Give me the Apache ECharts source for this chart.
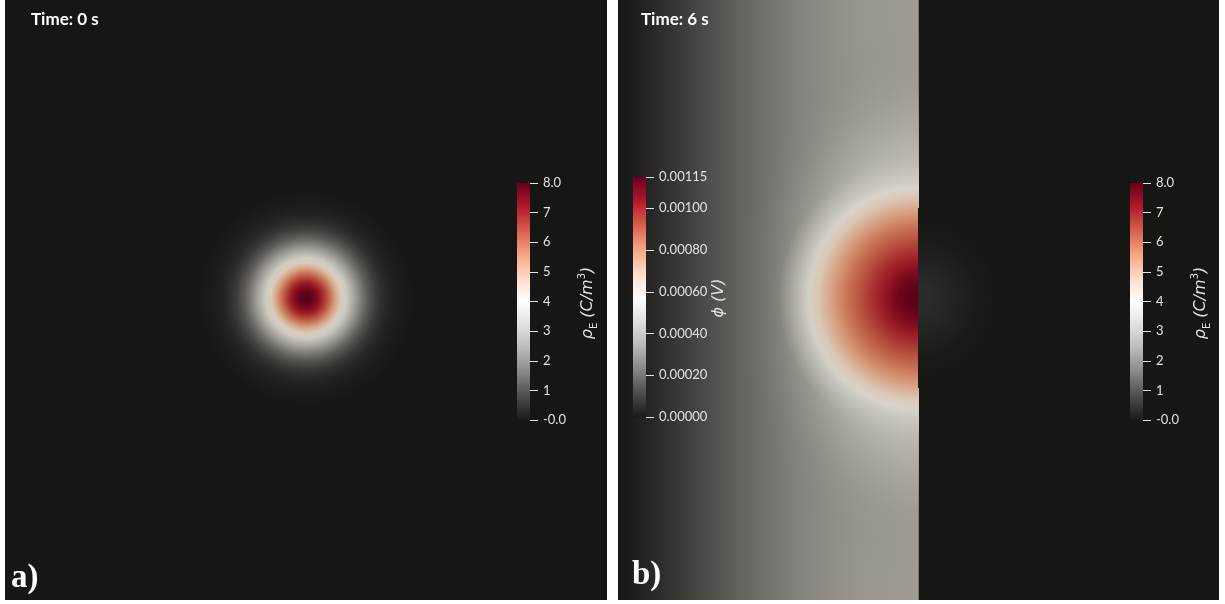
<!DOCTYPE html>
<html>
<head>
<meta charset="utf-8">
<script src="https://cdn.jsdelivr.net/npm/echarts@6.0.0/dist/echarts.min.js"></script>
<style>
  html, body { margin: 0; padding: 0; background: #ffffff; }
  #chart { width: 1225px; height: 604px; }
</style>
</head>
<body>
<div id="chart"></div>
<script>
// ---------------- data ----------------
const timeLabels = ['Time: 0 s', 'Time: 6 s'];
const panelLabels = ['a)', 'b)'];

// diverging map: dark grey -> white -> dark red, evenly spaced stops
const cmap = ['#1a1a1a', '#4d4d4d', '#878787', '#bababa', '#e0e0e0', '#ffffff',
              '#fddbc7', '#f4a582', '#d6604d', '#b2182b', '#67001f'];

const rhoRange = [0, 8];
const rhoTicks = [0, 1, 2, 3, 4, 5, 6, 7, 8];
const rhoTickLabels = ['-0.0', '1', '2', '3', '4', '5', '6', '7', '8.0'];

const phiRange = [0, 0.00115];
const phiTicks = [0, 0.0002, 0.0004, 0.0006, 0.0008, 0.0010, 0.00115];
const phiTickLabels = ['0.00000', '0.00020', '0.00040', '0.00060', '0.00080', '0.00100', '0.00115'];

// charge centre (domain units, domain is [-30, 30] x [-30, 30])
const chargeCentre = [0, 0.2];

// charge density at t = 0 s versus radius
const rho0R = [0, 0.5, 1, 1.5, 2, 2.5, 3, 3.5, 4, 4.5, 5, 5.5, 6, 6.5, 7, 7.5, 8, 8.5, 9, 9.5, 10, 10.5, 11, 11.5, 12];
const rho0V = [8.00, 7.90, 7.61, 7.14, 6.56, 5.89, 5.11, 4.35, 3.61, 2.92, 2.30, 1.78, 1.33, 0.98, 0.70, 0.49, 0.33, 0.22, 0.14, 0.09, 0.055, 0.03, 0.02, 0.01, 0];

// charge density at t = 6 s versus radius
const rho6R = [0, 1, 2, 3, 4, 5, 6, 7, 8, 9];
const rho6V = [0.38, 0.37, 0.33, 0.27, 0.20, 0.14, 0.08, 0.045, 0.02, 0];

// potential at t = 6 s near the charge, versus radius
const phiCoreR = [0, 1, 2, 3, 4, 5, 6, 7, 8, 9, 10, 11, 12, 13, 14];
const phiCoreV = [0.00115, 0.00114, 0.00111, 0.00106, 0.00101, 0.00096, 0.00091, 0.00086, 0.00080,
                  0.00073, 0.00065, 0.00058, 0.00053, 0.00050, 0.00048];

// potential at t = 6 s around the charge (horizontal distance; the halo reaches further vertically)
const phiHaloR = [0, 8, 10, 12, 14, 16, 18];
const phiHaloV = [0.00050, 0.00049, 0.00047, 0.00043, 0.00037, 0.00030, 0.00022];
const phiHaloStretch = 1.5;

// potential at t = 6 s far from the charge (top / bottom edges), versus x
const phiEdgeX = [-30, -27, -24, -21, -18, -15, -12, -9, -6, -3, 0];
const phiEdgeV = [0, 0.00004, 0.00009, 0.00014, 0.00019, 0.00023, 0.00027, 0.00030, 0.00032, 0.00033, 0.00034];

// ---------------- helpers ----------------
const SHADE = [0.86, 0.85, 0.81];   // surface lighting of the rendered field
const TXT = '#e2e2e2';

function fieldColor(v, range, alpha) {
  const t = Math.min(1, Math.max(0, (v - range[0]) / (range[1] - range[0])));
  const c = echarts.color.parse(echarts.color.lerp(t, cmap));
  return echarts.color.stringify([
    Math.round(c[0] * SHADE[0]), Math.round(c[1] * SHADE[1]), Math.round(c[2] * SHADE[2]),
    alpha == null ? 1 : alpha
  ], 'rgba');
}

// field symmetric about the charge; stretch > 1 elongates it vertically
function radialSeries(idx, rs, vs, range, fade, stretch) {
  const k = stretch || 1;
  return {
    type: 'custom', xAxisIndex: idx, yAxisIndex: idx, clip: true, silent: true,
    data: [chargeCentre],
    renderItem(params, api) {
      const c = api.coord([api.value(0), api.value(1)]);
      const R = rs[rs.length - 1];
      const s = api.size([R, R]);
      const rad = (s[0] + s[1]) / 2;
      const stops = rs.map((r, i) => ({
        offset: r / R,
        color: fieldColor(vs[i], range, fade ? fade(r / R) : 1)
      }));
      return {
        type: 'circle',
        x: c[0], y: c[1], scaleX: 1, scaleY: k,
        shape: { cx: 0, cy: 0, r: rad },
        style: { fill: new echarts.graphic.RadialGradient(0.5, 0.5, 0.5, stops) }
      };
    }
  };
}

function edgeSeries(idx) {
  return {
    type: 'custom', xAxisIndex: idx, yAxisIndex: idx, clip: true, silent: true,
    data: [[phiEdgeX[0], -30, phiEdgeX[phiEdgeX.length - 1], 30]],
    renderItem(params, api) {
      const p0 = api.coord([api.value(0), api.value(1)]);
      const p1 = api.coord([api.value(2), api.value(3)]);
      const span = phiEdgeX[phiEdgeX.length - 1] - phiEdgeX[0];
      const stops = phiEdgeX.map((x, i) => ({
        offset: (x - phiEdgeX[0]) / span,
        color: fieldColor(phiEdgeV[i], phiRange)
      }));
      return {
        type: 'rect',
        shape: { x: p0[0], y: p1[1], width: p1[0] - p0[0], height: p0[1] - p1[1] },
        style: { fill: new echarts.graphic.LinearGradient(p0[0], 0, p1[0], 0, stops, true) }
      };
    }
  };
}

function colorbarSeries(idx, range) {
  return {
    type: 'custom', xAxisIndex: idx, yAxisIndex: idx, silent: true, z: 5,
    data: [[0, range[0], 1, range[1]]],
    renderItem(params, api) {
      const a = api.coord([api.value(0), api.value(1)]);
      const b = api.coord([api.value(2), api.value(3)]);
      const stops = cmap.map((c, i) => ({ offset: i / (cmap.length - 1), color: c }));
      return {
        type: 'rect',
        shape: { x: a[0], y: b[1], width: b[0] - a[0], height: a[1] - b[1] },
        style: { fill: new echarts.graphic.LinearGradient(0, a[1], 0, b[1], stops, true) }
      };
    }
  };
}

const bg = fieldColor(0, rhoRange);

function fieldGrid(left, width) {
  return { left, top: 0, width, height: 600, show: true, backgroundColor: bg,
           borderWidth: 0, containLabel: false, outerBoundsMode: 'none' };
}
function barGrid(left, top, height) {
  return { left, top, width: 13, height, show: false, containLabel: false, outerBoundsMode: 'none' };
}
function hiddenAxis(idx, min, max) {
  return { gridIndex: idx, type: 'value', min, max, show: false };
}
function barAxis(idx, range, ticks, labels) {
  return {
    gridIndex: idx, type: 'value', min: range[0], max: range[1], position: 'right', z: 10,
    axisLine: { show: false, onZero: false }, splitLine: { show: false },
    axisTick: { show: true, inside: false, length: 8, lineStyle: { color: TXT, width: 1 }, customValues: ticks },
    axisLabel: {
      show: true, margin: 13, color: TXT, fontSize: 13, fontFamily: 'Lato',
      customValues: ticks,
      formatter: v => labels[ticks.findIndex(t => Math.abs(t - v) < 1e-9)]
    }
  };
}

const titleRich = {
  i: { fontSize: 16, fontStyle: 'italic', fontFamily: 'DejaVu Sans', fill: TXT, lineHeight: 22, verticalAlign: 'middle' },
  s: { fontSize: 10, fontFamily: 'DejaVu Sans', fill: TXT, lineHeight: 22, verticalAlign: 'bottom' },
  p: { fontSize: 10, fontFamily: 'DejaVu Sans', fill: TXT, lineHeight: 22, verticalAlign: 'top' }
};
function barTitle(x, y, text) {
  return { type: 'text', x, y, rotation: Math.PI / 2, z: 100,
           style: { text, rich: titleRich, align: 'center', verticalAlign: 'middle' } };
}

// smooth blend of the halo into the far field, and of the core into the halo
const haloFade = f => f <= 0.4 ? 1 : Math.max(0, Math.pow((1 - f) / 0.6, 1.5));
const coreFade = f => f <= 0.75 ? 1 : Math.max(0, (1 - f) / 0.25);

// ---------------- chart ----------------
const chart = echarts.init(document.getElementById('chart'), null, { renderer: 'canvas' });

chart.setOption({
  backgroundColor: '#ffffff',
  animation: false,
  grid: [
    fieldGrid(5, 602),          // 0: panel a
    fieldGrid(618, 300.5),      // 1: panel b, potential half
    fieldGrid(918.5, 300.5),    // 2: panel b, charge half
    barGrid(517, 183, 237),     // 3: colour bar, panel a
    barGrid(633, 177, 240),     // 4: potential colour bar
    barGrid(1130, 183, 237)     // 5: colour bar, panel b
  ],
  xAxis: [
    hiddenAxis(0, -30, 30), hiddenAxis(1, -30, 0), hiddenAxis(2, 0, 30),
    hiddenAxis(3, 0, 1), hiddenAxis(4, 0, 1), hiddenAxis(5, 0, 1)
  ],
  yAxis: [
    hiddenAxis(0, -30, 30), hiddenAxis(1, -30, 30), hiddenAxis(2, -30, 30),
    barAxis(3, rhoRange, rhoTicks, rhoTickLabels),
    barAxis(4, phiRange, phiTicks, phiTickLabels),
    barAxis(5, rhoRange, rhoTicks, rhoTickLabels)
  ],
  series: [
    radialSeries(0, rho0R, rho0V, rhoRange),
    edgeSeries(1),
    radialSeries(1, phiHaloR, phiHaloV, phiRange, haloFade, phiHaloStretch),
    radialSeries(1, phiCoreR, phiCoreV, phiRange, coreFade),
    radialSeries(2, rho6R, rho6V, rhoRange),
    colorbarSeries(3, rhoRange),
    colorbarSeries(4, phiRange),
    colorbarSeries(5, rhoRange)
  ],
  graphic: [
    { type: 'text', x: 31, y: 20, z: 100,
      style: { text: timeLabels[0], fill: '#ffffff', fontSize: 17, fontWeight: 'bold', fontFamily: 'Lato', verticalAlign: 'middle' } },
    { type: 'text', x: 641, y: 20, z: 100,
      style: { text: timeLabels[1], fill: '#ffffff', fontSize: 17, fontWeight: 'bold', fontFamily: 'Lato', verticalAlign: 'middle' } },
    { type: 'text', x: 11, y: 578, z: 100,
      style: { text: panelLabels[0], fill: '#ffffff', fontSize: 33, fontWeight: 'bold', fontFamily: 'Liberation Serif', verticalAlign: 'middle' } },
    { type: 'text', x: 632, y: 575, z: 100,
      style: { text: panelLabels[1], fill: '#ffffff', fontSize: 33, fontWeight: 'bold', fontFamily: 'Liberation Serif', verticalAlign: 'middle' } },
    barTitle(588, 303, '{i|ρ}{s|E}{i| (C/m}{p|3}{i|)}'),
    barTitle(719, 298, '{i|ϕ (V)}'),
    barTitle(1201, 303, '{i|ρ}{s|E}{i| (C/m}{p|3}{i|)}')
  ]
});
</script>
</body>
</html>
